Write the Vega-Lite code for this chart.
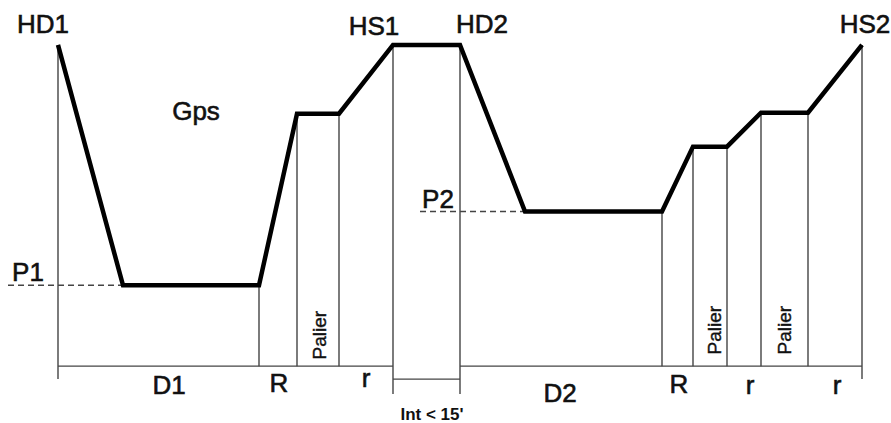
{
  "$schema": "https://vega.github.io/schema/vega-lite/v6.json",
  "width": 891,
  "height": 423,
  "autosize": {"type": "fit", "contains": "padding"},
  "padding": 0,
  "background": "white",
  "config": {"view": {"stroke": null}},
  "datasets": {
    "profile": [
      {"t": 58, "d": 45}, {"t": 123, "d": 286}, {"t": 259, "d": 286}, {"t": 297, "d": 114},
      {"t": 339, "d": 114}, {"t": 393, "d": 45}, {"t": 460, "d": 45}, {"t": 525, "d": 212},
      {"t": 662, "d": 212}, {"t": 693, "d": 147}, {"t": 727, "d": 147}, {"t": 761, "d": 113},
      {"t": 808, "d": 113}, {"t": 862, "d": 45}
    ],
    "segments": [
      {"t": 58, "t2": 58, "d": 45, "d2": 380},
      {"t": 259, "t2": 259, "d": 286, "d2": 367},
      {"t": 297, "t2": 297, "d": 114, "d2": 367},
      {"t": 339, "t2": 339, "d": 114, "d2": 367},
      {"t": 393, "t2": 393, "d": 45, "d2": 395},
      {"t": 460, "t2": 460, "d": 45, "d2": 395},
      {"t": 662, "t2": 662, "d": 212, "d2": 367},
      {"t": 693, "t2": 693, "d": 147, "d2": 367},
      {"t": 727, "t2": 727, "d": 147, "d2": 367},
      {"t": 761, "t2": 761, "d": 113, "d2": 367},
      {"t": 808, "t2": 808, "d": 113, "d2": 367},
      {"t": 862, "t2": 862, "d": 45, "d2": 380},
      {"t": 58, "t2": 393, "d": 367, "d2": 367},
      {"t": 460, "t2": 862, "d": 367, "d2": 367},
      {"t": 393, "t2": 460, "d": 380, "d2": 380}
    ],
    "dashed": [
      {"t": 8, "t2": 123, "d": 286, "d2": 286},
      {"t": 420, "t2": 525, "d": 212, "d2": 212}
    ],
    "labels": [
      {"t": 43, "d": 33, "label": "HD1"},
      {"t": 374, "d": 35, "label": "HS1"},
      {"t": 482, "d": 33, "label": "HD2"},
      {"t": 865, "d": 33, "label": "HS2"},
      {"t": 196, "d": 120, "label": "Gps"},
      {"t": 28, "d": 282, "label": "P1"},
      {"t": 438, "d": 208, "label": "P2"},
      {"t": 169, "d": 395, "label": "D1"},
      {"t": 279, "d": 393, "label": "R"},
      {"t": 366, "d": 388, "label": "r"},
      {"t": 560, "d": 403, "label": "D2"},
      {"t": 679, "d": 394, "label": "R"},
      {"t": 750, "d": 395, "label": "r"},
      {"t": 837, "d": 395, "label": "r"}
    ],
    "paliers": [
      {"t": 320, "d": 336, "label": "Palier"},
      {"t": 715, "d": 331, "label": "Palier"},
      {"t": 785, "d": 331, "label": "Palier"}
    ],
    "interval": [
      {"t": 432, "d": 421, "label": "Int < 15'"}
    ]
  },
  "encoding": {
    "x": {"field": "t", "type": "quantitative", "scale": {"domain": [0, 891], "nice": false, "zero": false}, "axis": null},
    "y": {"field": "d", "type": "quantitative", "scale": {"domain": [0, 423], "nice": false, "zero": false, "reverse": true}, "axis": null}
  },
  "layer": [
    {
      "data": {"name": "segments"},
      "mark": {"type": "rule", "color": "#444444", "strokeWidth": 1.4},
      "encoding": {"x2": {"field": "t2"}, "y2": {"field": "d2"}}
    },
    {
      "data": {"name": "dashed"},
      "mark": {"type": "rule", "color": "#444444", "strokeWidth": 1.4, "strokeDash": [6, 4]},
      "encoding": {"x2": {"field": "t2"}, "y2": {"field": "d2"}}
    },
    {
      "data": {"name": "profile"},
      "mark": {"type": "line", "color": "#000000", "strokeWidth": 4.5, "strokeJoin": "miter", "strokeCap": "butt"},
      "encoding": {}
    },
    {
      "data": {"name": "labels"},
      "mark": {"type": "text", "font": "Liberation Sans", "fontSize": 26, "align": "center", "baseline": "alphabetic", "fill": "#111111", "stroke": "#111111", "strokeWidth": 0.6},
      "encoding": {"text": {"field": "label"}}
    },
    {
      "data": {"name": "paliers"},
      "mark": {"type": "text", "font": "Liberation Sans", "fontSize": 19, "angle": 270, "align": "center", "baseline": "middle", "fill": "#111111", "stroke": "#111111", "strokeWidth": 0.4},
      "encoding": {"text": {"field": "label"}}
    },
    {
      "data": {"name": "interval"},
      "mark": {"type": "text", "font": "Liberation Sans", "fontSize": 17, "fontWeight": "bold", "align": "center", "baseline": "alphabetic", "fill": "#111111"},
      "encoding": {"text": {"field": "label"}}
    }
  ]
}
